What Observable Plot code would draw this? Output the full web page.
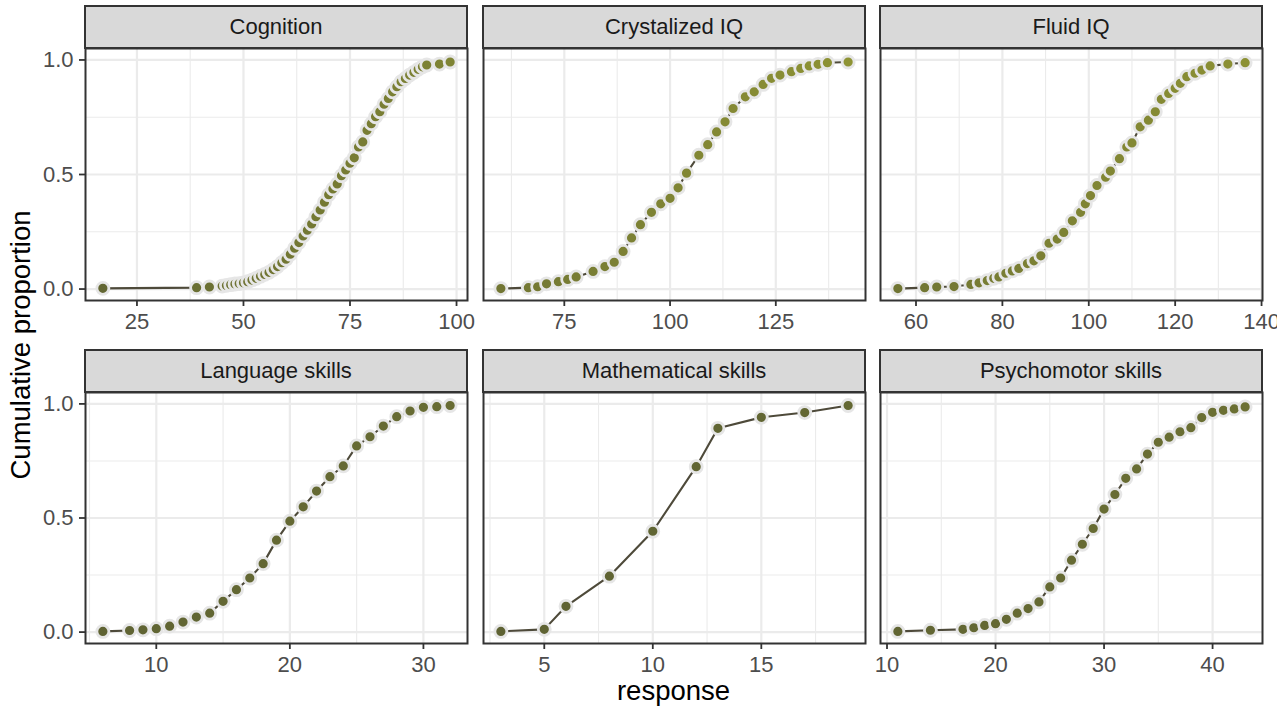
<!DOCTYPE html>
<html><head><meta charset="utf-8">
<script src="https://cdn.jsdelivr.net/npm/d3@7"></script>
<script src="https://cdn.jsdelivr.net/npm/@observablehq/plot@0.6"></script>
<style>
body{margin:0;background:#fff;font-family:"Liberation Sans",Arial,sans-serif;}
#chart{position:relative;width:1277px;height:713px;overflow:hidden;background:#fff}
.strip{position:absolute;box-sizing:border-box;background:#d9d9d9;border:2px solid #333;color:#1a1a1a;font-size:22px;display:flex;align-items:center;justify-content:center;}
.panel{position:absolute}
.panel svg{overflow:visible;background:transparent;max-width:none}
.title{position:absolute;font-size:27.5px;color:#000;white-space:nowrap;line-height:1}
</style></head><body><div id="chart"></div>
<script>
// ---- data ----
const facets = ["Cognition","Crystalized IQ","Fluid IQ","Language skills","Mathematical skills","Psychomotor skills"];

const cognitionX = [17,39,42,45,46,47,48,49,50,51,52,53,54,55,56,57,58,59,60,61,62,63,64,65,66,67,68,69,70,71,72,73,74,75,76,77,78,79,80,81,82,83,84,85,86,87,88,89,90,91,92,93,96,98.5];
const cognitionY = [0.003,0.006,0.009,0.013,0.016,0.019,0.022,0.024,0.027,0.032,0.039,0.047,0.056,0.064,0.073,0.085,0.098,0.115,0.130,0.152,0.178,0.203,0.232,0.257,0.284,0.316,0.345,0.379,0.412,0.437,0.459,0.495,0.520,0.549,0.573,0.620,0.642,0.693,0.722,0.752,0.774,0.807,0.832,0.861,0.883,0.905,0.919,0.934,0.946,0.959,0.970,0.978,0.982,0.991];

const crystalX = [60,66.5,68.7,70.8,73.6,75.8,77.8,81.8,84.6,86.8,88.9,90.9,93,95.6,97.8,100,101.9,103.9,106.8,108.9,111,113,114.9,117.8,119.9,122,124,126,128.7,130.9,132.9,135,137.2,142.1];
const crystalY = [0.002,0.006,0.010,0.023,0.032,0.042,0.053,0.077,0.098,0.117,0.164,0.223,0.281,0.335,0.372,0.396,0.442,0.506,0.584,0.630,0.686,0.730,0.788,0.839,0.861,0.893,0.920,0.934,0.949,0.963,0.974,0.981,0.988,0.991];

const fluidX = [55.8,62,64.8,68.8,72.7,74.6,76.5,78,79.2,80.8,82.3,83.8,85.8,87.3,88.9,90.8,92.7,94.2,96.2,98.1,99.2,100.4,101.9,103.9,105,107.1,108.8,110,111.9,113.8,115.4,116.8,118.5,120,121.2,122.7,124.6,126.2,128.1,132.2,136.2];
const fluidY = [0.002,0.006,0.009,0.011,0.020,0.027,0.037,0.047,0.053,0.069,0.079,0.090,0.111,0.123,0.145,0.200,0.218,0.247,0.298,0.335,0.372,0.408,0.452,0.488,0.515,0.569,0.620,0.638,0.708,0.737,0.774,0.828,0.854,0.876,0.898,0.927,0.942,0.956,0.974,0.982,0.988];

const languageX = [6,8,9,10,11,12,13,14,15,16,17,18,19,20,21,22,23,24,25,26,27,28,29,30,31,32];
const languageY = [0.003,0.007,0.010,0.015,0.026,0.044,0.066,0.083,0.135,0.186,0.237,0.300,0.403,0.486,0.549,0.618,0.681,0.728,0.816,0.856,0.903,0.944,0.969,0.985,0.988,0.993];

const mathX = [3,5,6,8,10,12,13,15,17,19];
const mathY = [0.003,0.012,0.113,0.245,0.442,0.725,0.893,0.941,0.962,0.993];

const psychoX = [11,14,17,18,19,20,21,22,23,24,25,26,27,28,29,30,31,32,33,34,35,36,37,38,39,40,41,42,43];
const psychoY = [0.003,0.008,0.012,0.019,0.029,0.037,0.056,0.083,0.103,0.132,0.198,0.237,0.315,0.385,0.454,0.539,0.603,0.674,0.715,0.780,0.832,0.854,0.878,0.896,0.940,0.963,0.972,0.978,0.987];

// tick labels
const cognitionTicks = [25,50,75,100],  cognitionMinor = [37.5,62.5,87.5];
const crystalTicks = [75,100,125],      crystalMinor = [62.5,87.5,112.5,137.5];
const fluidTicks = [60,80,100,120,140], fluidMinor = [70,90,110,130];
const languageTicks = [10,20,30],       languageMinor = [5,15,25];
const mathTicks = [5,10,15],            mathMinor = [2.5,7.5,12.5,17.5];
const psychoTicks = [10,20,30,40],      psychoMinor = [15,25,35];
const yTicks = [0,0.5,1], yMinor = [0.25,0.75];

const yTitle = "Cumulative proportion", xTitle = "response";

// ---- layout ----
const cols = [[85,467],[483,865],[880,1262]];
const rows = [[48,300],[392,643]];
const stripH = 43;
const mL=80,mR=20,mT=10,mB=50;

const series = [
  {x:cognitionX,y:cognitionY,ticks:cognitionTicks,minor:cognitionMinor},
  {x:crystalX,y:crystalY,ticks:crystalTicks,minor:crystalMinor},
  {x:fluidX,y:fluidY,ticks:fluidTicks,minor:fluidMinor},
  {x:languageX,y:languageY,ticks:languageTicks,minor:languageMinor},
  {x:mathX,y:mathY,ticks:mathTicks,minor:mathMinor},
  {x:psychoX,y:psychoY,ticks:psychoTicks,minor:psychoMinor}
];

const chart = document.getElementById("chart");
const grid = "#ebebeb";

series.forEach((f,i)=>{
  const col = i%3, row = Math.floor(i/3);
  const [PL,PR] = cols[col], [PT,PB] = rows[row];
  const data = f.x.map((x,j)=>({x, y:f.y[j]}));
  const [lo,hi] = d3.extent(f.x), pad=(hi-lo)*0.05;
  const plot = Plot.plot({
    width: PR-PL+mL+mR, height: PB-PT+mT+mB,
    marginLeft:mL, marginRight:mR, marginTop:mT, marginBottom:mB,
    style:{background:"transparent", fontFamily:"Liberation Sans, Arial, sans-serif", fontSize:"22px", overflow:"visible"},
    x:{domain:[lo-pad,hi+pad]},
    y:{domain:[-0.05,1.05]},
    color:{type:"linear", domain:[0,145], range:["#5d6133","#8f9434"]},
    marks:[
      Plot.gridX(f.minor,{stroke:grid,strokeOpacity:1,strokeWidth:1.1}),
      Plot.gridY(yMinor,{stroke:grid,strokeOpacity:1,strokeWidth:1.1}),
      Plot.gridX(f.ticks,{stroke:grid,strokeOpacity:1,strokeWidth:2.2}),
      Plot.gridY(yTicks,{stroke:grid,strokeOpacity:1,strokeWidth:2.2}),
      Plot.line(data,{x:"x",y:"y",stroke:"#4e4a3a",strokeWidth:2.1}),
      Plot.dot(data,{x:"x",y:"y",r:6,fill:"x",stroke:"#e6e6e6",strokeWidth:2.8}),
      Plot.axisX(f.ticks,{tickSize:6,tickPadding:7,stroke:"#333",strokeWidth:1.8,fill:"#4d4d4d",fontSize:22,label:null}),
      Plot.axisY(col===0?yTicks:[],{tickSize:6,tickPadding:6,stroke:"#333",strokeWidth:1.8,fill:"#4d4d4d",fontSize:22,label:null,tickFormat:d3.format(".1f")}),
      Plot.frame({stroke:"#333",strokeWidth:2})
    ]
  });
  const wrap = document.createElement("div");
  wrap.className="panel";
  wrap.style.left=(PL-mL)+"px"; wrap.style.top=(PT-mT)+"px";
  wrap.appendChild(plot);
  chart.appendChild(wrap);

  const s = document.createElement("div");
  s.className="strip";
  s.style.left=(PL-1)+"px"; s.style.width=(PR-PL+2)+"px";
  s.style.top=(PT-stripH)+"px"; s.style.height=(stripH+1)+"px";
  s.textContent=facets[i];
  chart.appendChild(s);
});

const yt=document.createElement("div");
yt.className="title"; yt.textContent=yTitle;
yt.style.left="21px"; yt.style.top="345px";
yt.style.transform="translate(-50%,-50%) rotate(-90deg)";
chart.appendChild(yt);

const xt=document.createElement("div");
xt.className="title"; xt.textContent=xTitle;
xt.style.left="673.5px"; xt.style.top="677px";
xt.style.transform="translateX(-50%)";
chart.appendChild(xt);
</script></body></html>
